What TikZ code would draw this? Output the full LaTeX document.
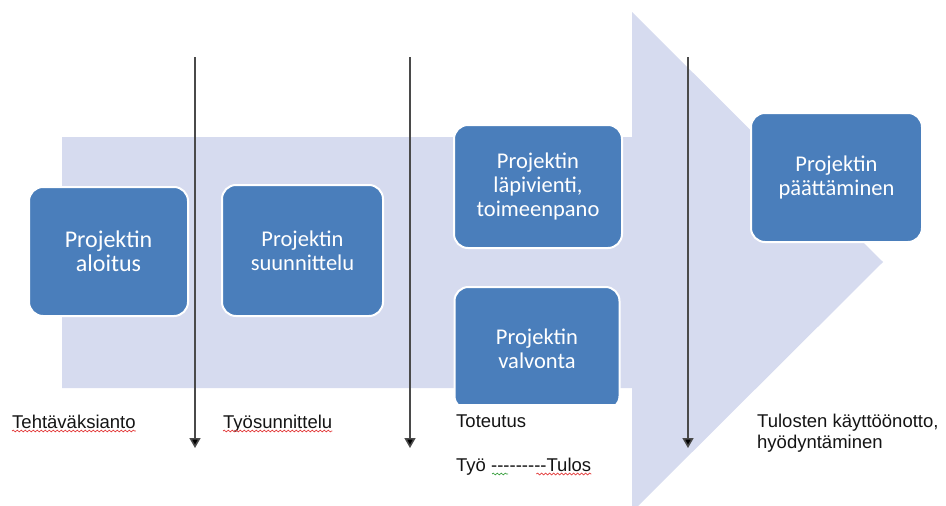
\documentclass[tikz,border=0pt]{standalone}
\usepackage{fontspec}
\setmainfont{Liberation Sans}
\newfontfamily\stagefont{Carlito}
\usetikzlibrary{arrows.meta,decorations.pathmorphing}

\definecolor{stageblue}{HTML}{4A7EBB}
\definecolor{flowbg}{HTML}{D6DBEF}
\definecolor{divider}{HTML}{4A4A4A}
\definecolor{spellred}{HTML}{E23A3A}
\definecolor{spellgreen}{HTML}{3AA040}

% a plain hyphen that TeX ligatures leave alone
\newcommand\hyph{-\kern0pt}

\begin{document}
\begin{tikzpicture}[x=1pt,y=-1pt,
  stage/.style={draw=white, line width=2pt, fill=stageblue, rounded corners=14pt,
    text=white, align=center, inner sep=0pt,
    font=\stagefont\fontsize{22.5}{24}\selectfont},
  phase/.style={anchor=base west, inner sep=0pt, align=left,
    font=\fontsize{18.5}{21}\selectfont, text=black!92},
  divide/.style={draw=divider, line width=1.6pt,
    -{Triangle[length=10pt,width=11pt,fill=black]}},
  squiggle/.style={decorate, decoration={snake, segment length=4pt, amplitude=0.9pt},
    line width=0.7pt}]

  \clip (0,0) rectangle (946,506);

  % the large background arrow
  \fill[flowbg] (62,137) -- (632,137) -- (632,12) -- (883,262) -- (632,512)
    -- (632,388) -- (62,388) -- cycle;

  % project stages
  \node[stage, minimum width=159pt, minimum height=129pt,
    font=\stagefont\fontsize{24}{23.5}\selectfont] (start) at (108.5,251.5)
    {Projektin\\aloitus};
  \node[stage, minimum width=161pt, minimum height=131pt] (plan) at (302.5,250.5)
    {Projektin\\suunnittelu};
  \node[stage, minimum width=168pt, minimum height=123pt] (exec) at (538,186.5)
    {Projektin\\läpivienti,\\toimeenpano};
  \begin{scope}
    \clip (0,0) rectangle (946,403);
    \node[stage, minimum width=165pt, minimum height=123pt] (ctrl) at (537,348.5)
      {Projektin\\valvonta};
  \end{scope}
  \node[stage, minimum width=171pt, minimum height=129pt] (close) at (836.5,177.5)
    {Projektin\\päättäminen};

  % phase dividers
  \coordinate (d1top) at (195,57);  \coordinate (d1end) at (195,448);
  \coordinate (d2top) at (410,57);  \coordinate (d2end) at (410,448);
  \coordinate (d3top) at (688,57);  \coordinate (d3end) at (688,448);
  \draw[divide] (d1top) -- (d1end);
  \draw[divide] (d2top) -- (d2end);
  \draw[divide] (d3top) -- (d3end);

  % phase labels
  \node[phase] (task) at (12,428) {Tehtäväksianto};
  \node[phase] (work) at (223,428) {Työsunnittelu};
  \node[phase] (impl) at (456,427) {Toteutus};
  \node[phase] (flow) at (456,471) {Työ \hyph\hyph\hyph\hyph\hyph\hyph\hyph\hyph\hyph Tulos};
  \node[phase] (use) at (757,448) {Tulosten käyttöönotto,\\hyödyntäminen};

  % proofing marks under the labels
  \draw[squiggle, spellred] ([yshift=-3pt]task.base west) -- ([yshift=-3pt]task.base east);
  \draw[squiggle, spellred] ([yshift=-3pt]work.base west) -- ([yshift=-3pt]work.base east);
  \draw[squiggle, spellgreen] ([xshift=36pt,yshift=-3pt]flow.base west)
    -- ([xshift=52pt,yshift=-3pt]flow.base west);
  \draw[squiggle, spellred] ([xshift=-55pt,yshift=-3pt]flow.base east)
    -- ([yshift=-3pt]flow.base east);
\end{tikzpicture}
\end{document}
